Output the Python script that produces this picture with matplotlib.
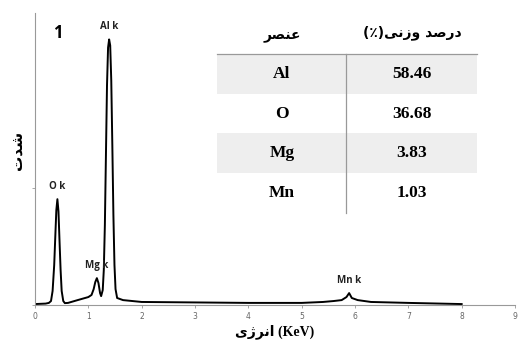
import numpy as np
import matplotlib
matplotlib.use("Agg")
import matplotlib.pyplot as plt
from matplotlib.patches import Rectangle
from matplotlib.lines import Line2D

# EDS spectrum (energy in keV, counts)
energy = [0.00, 0.20, 0.26, 0.30, 0.33, 0.36, 0.38, 0.40, 0.42, 0.44, 0.46, 0.48,
          0.50, 0.53, 0.56, 0.62, 0.80, 1.00, 1.06, 1.10, 1.13, 1.16, 1.19, 1.22,
          1.24, 1.27, 1.29, 1.31, 1.33, 1.35, 1.37, 1.39, 1.41, 1.43, 1.45, 1.47,
          1.49, 1.51, 1.54, 1.65, 2.00, 3.00, 4.00, 5.00, 5.40, 5.60, 5.75, 5.84,
          5.89, 5.94, 6.05, 6.30, 7.00, 8.00]
counts = [4, 6, 9, 17, 60, 171, 290, 406, 453, 401, 273, 150,
          60, 17, 8, 9, 21, 34, 43, 68, 98, 115, 94, 51,
          38, 64, 150, 342, 641, 940, 1102, 1137, 1111, 961, 684, 385,
          171, 68, 30, 21, 13, 11, 9, 9, 13, 17, 21, 34,
          51, 30, 21, 13, 9, 4]

peak_names = ["O k", "Mg k", "Al k", "Mn k"]
peak_pos = [0.42, 1.16, 1.39, 5.89]
peak_top = [453, 115, 1137, 51]

# table
elements = ["Al", "O", "Mg", "Mn"]
weight_pct = [58.46, 36.68, 3.83, 1.03]

# persian text, pre-shaped (presentation forms, visual order)
ylab = "\uFE95\uFEAA\uFEB7"                      # شدت
xlab_fa = "\uFBFC\uFB8A\uFEAE\uFEE7\uFE8D"       # انرژی
head_el = "\uFEAE\uFEBC\uFEE8\uFECB"             # عنصر
head_wt = "(\u066A)" + "\uFBFD\uFEE7\uFEAF\uFEED" + " " + "\uFEAA\uFEBB\uFEAD\uFEA9"  # درصد وزنی(٪)

W, H = 520, 345
fig = plt.figure(figsize=(5.2, 3.45), dpi=100)
ax = fig.add_axes([35 / W, 1 - 305 / H, 480 / W, 292 / H])

ax.plot(energy, counts, color="black", lw=1.4, solid_joinstyle="round")

for name, x, y in zip(peak_names, peak_pos, peak_top):
    ax.annotate(name, (x, y), xytext=(0, 5), textcoords="offset points",
                ha="center", va="bottom", fontsize=7, fontweight="bold",
                family="Open Sans", color="#222")

ax.set_xlim(0, 9)
ax.set_ylim(0, 1250)
ax.set_xticks(range(10))
ax.set_yticks([0, 500])
ax.set_yticklabels([])
ax.tick_params(axis="x", labelsize=5.5, labelcolor="#666", color="#999",
               length=2, width=0.6, pad=3)
ax.tick_params(axis="y", color="#999", length=2, width=0.6)
for s in ["top", "right"]:
    ax.spines[s].set_visible(False)
for s in ["left", "bottom"]:
    ax.spines[s].set_color("#999")
    ax.spines[s].set_linewidth(0.8)

ax.text(0.047, 0.93, "1", transform=ax.transAxes, fontsize=12, fontweight="bold",
        family="Open Sans", ha="center", va="center")

fig.text(18 / W, 1 - 150 / H, ylab, rotation=90, fontsize=11, fontweight="bold",
         family="DejaVu Sans", ha="center", va="center")
fig.text(275 / W, 1 - 332 / H, xlab_fa + " (KeV)", fontsize=10, fontweight="bold",
         family=["Liberation Serif", "DejaVu Sans"], ha="center", va="center")


def fx(px):
    return px / W


def fy(py):
    return 1 - py / H


# table drawn in figure pixels
tx0, tx1, tmid = 217, 477, 346
row_top, row_h = 54, 39.7
for i, (el, wt) in enumerate(zip(elements, weight_pct)):
    y0 = row_top + i * row_h
    if i % 2 == 0:
        fig.patches.append(Rectangle((fx(tx0), fy(y0 + row_h)), fx(tx1) - fx(tx0),
                                     row_h / H, transform=fig.transFigure,
                                     facecolor="#eeeeee", edgecolor="none", zorder=0))
    yc = fy(y0 + row_h / 2)
    fig.text(fx(282), yc, el, fontsize=12.5, fontweight="bold", family="Liberation Serif",
             ha="center", va="center")
    fig.text(fx(412), yc, f"{wt:.2f}", fontsize=12.5, fontweight="bold",
             family="Liberation Serif", ha="center", va="center")

fig.lines.append(Line2D([fx(tx0), fx(tx1)], [fy(53.5), fy(53.5)], transform=fig.transFigure,
                        color="#999", lw=0.9))
fig.lines.append(Line2D([fx(tmid), fx(tmid)], [fy(53.5), fy(213)], transform=fig.transFigure,
                        color="#999", lw=0.9))
fig.text(fx(282), fy(35), head_el, fontsize=10, fontweight="bold", family="DejaVu Sans",
         ha="center", va="center")
fig.text(fx(412), fy(33), head_wt, fontsize=10, fontweight="bold", family="DejaVu Sans",
         ha="center", va="center")

fig.savefig("out.png", dpi=100)
